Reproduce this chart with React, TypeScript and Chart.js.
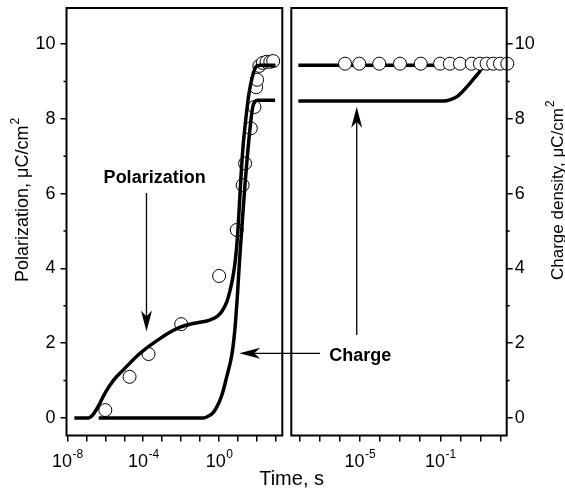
import React, { useEffect, useRef } from 'react';
import { Chart, registerables } from 'chart.js';

Chart.register(...registerables);

const FONT = '"Liberation Sans", Arial, Helvetica, sans-serif';

// ---------- Left panel (time in s) ----------
const polLineLeftT = [2.34e-8, 1.26e-7, 2.0e-7, 3.16e-7, 5.5e-7, 1e-6, 2.75e-6, 7.9e-6, 2.1e-5, 5e-5, 1.05e-4, 3.16e-4, 7.9e-4, 3.16e-3, 8.9e-3, 0.0316, 0.1, 0.32, 0.79, 1.38, 2.5, 3.8, 5.0, 6.5, 8.3, 10, 12, 13.8, 17.8, 26.3, 35.5, 46.8, 63, 79.4, 95.5, 158, 933];
const polLineLeftP = [0, 0, 0.06, 0.2, 0.42, 0.68, 1.01, 1.26, 1.48, 1.67, 1.81, 1.99, 2.13, 2.32, 2.43, 2.51, 2.56, 2.62, 2.72, 2.85, 3.1, 3.42, 3.7, 4.05, 4.55, 5.1, 5.8, 6.35, 7.2, 8.06, 8.6, 8.95, 9.22, 9.36, 9.42, 9.44, 9.44];

const chargeLineLeftT = [4.5e-7, 0.145, 0.25, 0.5, 1.0, 1.58, 2.5, 3.55, 4.7, 6.0, 7.4, 9.1, 11.7, 14.8, 23.4, 39.8, 58.9, 79.4, 105, 891];
const chargeLineLeftQ = [0, 0, 0.04, 0.15, 0.42, 0.7, 1.1, 1.4, 1.7, 2.1, 2.6, 3.24, 4.14, 4.9, 6.28, 7.61, 8.32, 8.47, 8.5, 8.5];

const polPointsLeftT = [1e-6, 1.9e-5, 1.9e-4, 0.01, 1, 8.5, 17.4, 23.4, 46.8, 72.4, 89, 100, 132, 200, 316, 500, 708];
const polPointsLeftP = [0.21, 1.1, 1.71, 2.51, 3.8, 5.03, 6.23, 6.81, 7.75, 8.32, 8.85, 9.05, 9.42, 9.5, 9.53, 9.53, 9.55];

// ---------- Right panel ----------
const polLineRightT = [8.9e-9, 214];
const polLineRightP = [9.44, 9.44];

const chargeLineRightT = [8.9e-9, 0.148, 0.32, 0.68, 2.1, 5.0, 10, 12.6];
const chargeLineRightQ = [8.48, 8.48, 8.52, 8.6, 8.86, 9.1, 9.3, 9.4];

const polPointsRightT = [1.86e-6, 9.5e-6, 9.3e-5, 1e-3, 0.0107, 0.098, 0.3, 0.95, 3.6, 9.3, 20, 42.7, 93, 214];
const polPointsRightP = [9.48, 9.48, 9.48, 9.48, 9.48, 9.48, 9.48, 9.48, 9.48, 9.48, 9.48, 9.48, 9.48, 9.48];

// ---------- Axes ----------
const x1Decades = [1e-8, 1e-7, 1e-6, 1e-5, 1e-4, 1e-3, 1e-2, 1e-1, 1, 10, 100, 1000];
const x1Labeled = [1e-8, 1e-4, 1];
const x2Decades = [1e-8, 1e-7, 1e-6, 1e-5, 1e-4, 1e-3, 1e-2, 1e-1, 1, 10, 100];
const x2Labeled = [1e-5, 1e-1];
const yTicks = [0, 1, 2, 3, 4, 5, 6, 7, 8, 9, 10];

const xTitle = 'Time, s';
const yLeftTitle = 'Polarization, \u03bcC/cm';
const yRightTitle = 'Charge density, \u03bcC/cm';

// annotation anchors (data coordinates)
const polLabel = { text: 'Polarization', x: 10 ** -3.4, y: 6.29 };
const polArrow = { x: 10 ** -3.83, yFrom: 6.02, yTo: 2.31 };
const chargeLabel = { text: 'Charge', x: 10 ** -6.51, y: 1.53 };
const chargeArrowH = { y: 1.73, xFromRight: 10 ** -6.97, xToLeft: 10 ** 1.06 };
const chargeArrowV = { x: 10 ** -5.15, yFrom: 2.22, yTo: 8.33 };

const pts = (xs: number[], ys: number[]) => xs.map((x, i) => ({ x, y: ys[i] }));

function drawArrow(ctx: CanvasRenderingContext2D, x0: number, y0: number, x1: number, y1: number) {
  const ang = Math.atan2(y1 - y0, x1 - x0);
  const len = 21, half = 5.5, notch = 15;
  const cos = Math.cos(ang), sin = Math.sin(ang);
  ctx.save();
  ctx.strokeStyle = '#000';
  ctx.fillStyle = '#000';
  ctx.lineWidth = 1.3;
  ctx.beginPath();
  ctx.moveTo(x0, y0);
  ctx.lineTo(x1 - cos * notch, y1 - sin * notch);
  ctx.stroke();
  const bx = x1 - cos * len, by = y1 - sin * len;
  ctx.beginPath();
  ctx.moveTo(x1, y1);
  ctx.lineTo(bx - sin * half, by + cos * half);
  ctx.lineTo(x1 - cos * notch, y1 - sin * notch);
  ctx.lineTo(bx + sin * half, by - cos * half);
  ctx.closePath();
  ctx.fill();
  ctx.restore();
}

function drawPow(ctx: CanvasRenderingContext2D, cx: number, baseline: number, exp: string) {
  ctx.font = `18px ${FONT}`;
  const wb = ctx.measureText('10').width;
  ctx.font = `12px ${FONT}`;
  const we = ctx.measureText(exp).width;
  const start = cx - (wb + we) / 2;
  ctx.textAlign = 'left';
  ctx.textBaseline = 'alphabetic';
  ctx.font = `18px ${FONT}`;
  ctx.fillText('10', start, baseline);
  ctx.font = `12px ${FONT}`;
  ctx.fillText(exp, start + wb + 0.5, baseline - 8.5);
}

function drawRotatedTitle(ctx: CanvasRenderingContext2D, x: number, yStart: number, text: string, size: number) {
  ctx.save();
  ctx.translate(x, yStart);
  ctx.rotate(-Math.PI / 2);
  ctx.textAlign = 'left';
  ctx.textBaseline = 'alphabetic';
  ctx.font = `${size}px ${FONT}`;
  ctx.fillText(text, 0, 0);
  const w = ctx.measureText(text).width;
  ctx.font = `12px ${FONT}`;
  ctx.fillText('2', w + 1, -9);
  ctx.restore();
}

const PANEL = { lLeft: 66.5, lRight: 282.3, rLeft: 291.3, rRight: 506.7, top: 8, bottom: 435.5 };

const layoutPlugin = {
  id: 'panelLayout',
  afterLayout(chart: any) {
    const s = chart.scales;
    const set = (sc: any, l: number, t: number, r: number, b: number) => {
      sc.left = l; sc.top = t; sc.right = r; sc.bottom = b;
      sc.width = r - l; sc.height = b - t;
      sc._labelItems = null; sc._gridLineItems = null;
      sc.configure();
    };
    set(s.x1, PANEL.lLeft, PANEL.bottom, PANEL.lRight, PANEL.bottom + 30);
    set(s.x2, PANEL.rLeft, PANEL.bottom, PANEL.rRight, PANEL.bottom + 30);
    set(s.y1, 20, PANEL.top, PANEL.lLeft, PANEL.bottom);
    set(s.y2, PANEL.rRight, PANEL.top, 545, PANEL.bottom);
    chart.chartArea = { left: PANEL.lLeft, top: PANEL.top, right: PANEL.rRight, bottom: PANEL.bottom, width: PANEL.rRight - PANEL.lLeft, height: PANEL.bottom - PANEL.top };
  },
  afterDraw(chart: any) {
    const ctx: CanvasRenderingContext2D = chart.ctx;
    const { x1, x2, y1, y2 } = chart.scales;
    ctx.save();
    // frames
    ctx.strokeStyle = '#000';
    ctx.lineWidth = 2;
    ctx.strokeRect(x1.left, y1.top, x1.right - x1.left, y1.bottom - y1.top);
    ctx.strokeRect(x2.left, y2.top, x2.right - x2.left, y2.bottom - y2.top);
    // minor y ticks
    ctx.lineWidth = 1.5;
    yTicks.forEach((v) => {
      if (v % 2 === 0) return;
      const py = y1.getPixelForValue(v);
      ctx.beginPath();
      ctx.moveTo(x1.left - 3, py); ctx.lineTo(x1.left, py);
      ctx.moveTo(x2.right, py); ctx.lineTo(x2.right + 3, py);
      ctx.stroke();
    });
    ctx.fillStyle = '#000';
    // x labels
    const base = PANEL.bottom + 31;
    x1Labeled.forEach((v) => drawPow(ctx, x1.getPixelForValue(v), base, String(Math.round(Math.log10(v)))));
    x2Labeled.forEach((v) => drawPow(ctx, x2.getPixelForValue(v), base, String(Math.round(Math.log10(v)))));
    // titles
    ctx.font = `20px ${FONT}`;
    ctx.textAlign = 'center';
    ctx.textBaseline = 'alphabetic';
    ctx.fillText(xTitle, (x1.left + x2.right) / 2 + 5, 485);
    drawRotatedTitle(ctx, 28, 282, yLeftTitle, 18);
    drawRotatedTitle(ctx, 563, 280, yRightTitle, 17);
    // annotations
    ctx.font = `bold 18px ${FONT}`;
    ctx.textAlign = 'center';
    ctx.fillText(polLabel.text, x1.getPixelForValue(polLabel.x), y1.getPixelForValue(polLabel.y));
    ctx.textAlign = 'left';
    ctx.fillText(chargeLabel.text, x2.getPixelForValue(chargeLabel.x), y2.getPixelForValue(chargeLabel.y));
    const pax = x1.getPixelForValue(polArrow.x);
    drawArrow(ctx, pax, y1.getPixelForValue(polArrow.yFrom), pax, y1.getPixelForValue(polArrow.yTo));
    const hy = y1.getPixelForValue(chargeArrowH.y);
    drawArrow(ctx, x2.getPixelForValue(chargeArrowH.xFromRight), hy, x1.getPixelForValue(chargeArrowH.xToLeft), hy);
    const vx = x2.getPixelForValue(chargeArrowV.x);
    drawArrow(ctx, vx, y2.getPixelForValue(chargeArrowV.yFrom), vx, y2.getPixelForValue(chargeArrowV.yTo));
    ctx.restore();
  },
};

export default function App() {
  const ref = useRef<HTMLCanvasElement>(null);
  useEffect(() => {
    if (!ref.current) return;
    const lineDs = (data: any[], xAxisID: string, yAxisID: string) => ({
      data, xAxisID, yAxisID,
      showLine: true,
      borderColor: '#000',
      borderWidth: 3.5,
      pointRadius: 0,
      cubicInterpolationMode: 'monotone' as const,
      borderCapStyle: 'butt' as const,
      borderJoinStyle: 'round' as const,
      fill: false,
    });
    const pointDs = (data: any[], xAxisID: string, yAxisID: string) => ({
      data, xAxisID, yAxisID,
      showLine: false,
      pointRadius: 6.5,
      pointBorderWidth: 1,
      pointBorderColor: '#000',
      pointBackgroundColor: '#fff',
      clip: false as any,
    });
    const yScale = (position: 'left' | 'right') => ({
      type: 'linear' as const,
      position,
      min: -0.47,
      max: 10.97,
      afterBuildTicks: (sc: any) => { sc.ticks = yTicks.map((v) => ({ value: v })); },
      ticks: {
        color: '#000',
        font: { family: FONT, size: 18 },
        padding: position === 'left' ? 5 : 2,
        callback: (v: any) => (Number(v) % 2 === 0 ? String(v) : ''),
      },
      grid: {
        drawOnChartArea: false,
        drawTicks: true,
        tickLength: 6,
        lineWidth: 1.5,
        color: (c: any) => (c.tick && c.tick.value % 2 === 0 ? '#000' : 'rgba(0,0,0,0)'),
      },
      border: { display: false },
    });
    const xScale = (min: number, max: number, decades: number[]) => ({
      type: 'logarithmic' as const,
      position: 'bottom' as const,
      min, max,
      afterBuildTicks: (sc: any) => { sc.ticks = decades.map((v) => ({ value: v })); },
      ticks: { display: false },
      grid: { drawOnChartArea: false, drawTicks: true, tickLength: 6, lineWidth: 1.5, color: '#000' },
      border: { display: false },
    });
    const chart = new Chart(ref.current, {
      type: 'scatter',
      data: {
        datasets: [
          lineDs(pts(polLineLeftT, polLineLeftP), 'x1', 'y1'),
          lineDs(pts(chargeLineLeftT, chargeLineLeftQ), 'x1', 'y1'),
          pointDs(pts(polPointsLeftT, polPointsLeftP), 'x1', 'y1'),
          pointDs(pts(polPointsRightT, polPointsRightP), 'x2', 'y2'),
          lineDs(pts(polLineRightT, polLineRightP), 'x2', 'y2'),
          lineDs(pts(chargeLineRightT, chargeLineRightQ), 'x2', 'y2'),
        ] as any,
      },
      options: {
        responsive: false,
        animation: false,
        events: [],
        plugins: { legend: { display: false }, tooltip: { enabled: false } },
        scales: {
          x1: xScale(10 ** -8.04, 10 ** 3.33, x1Decades),
          x2: xScale(10 ** -8.4, 10 ** 2.3, x2Decades),
          y1: yScale('left'),
          y2: yScale('right'),
        } as any,
      },
      plugins: [layoutPlugin],
    });
    return () => chart.destroy();
  }, []);
  return (
    <canvas
      ref={ref}
      width={565}
      height={489}
      style={{ position: 'absolute', left: 0, top: 0, width: 565, height: 489 }}
    />
  );
}
